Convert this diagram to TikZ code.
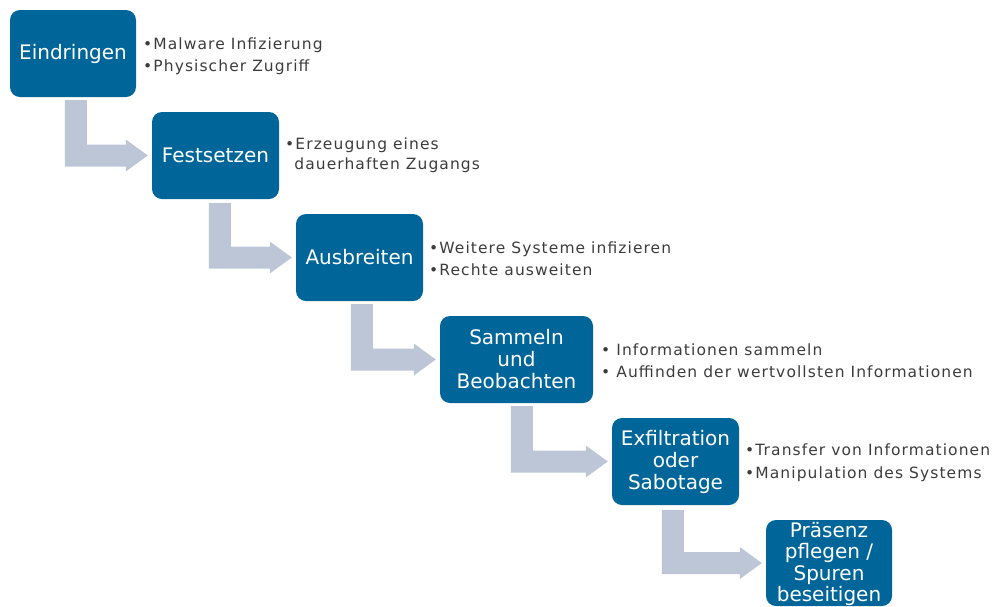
\documentclass[tikz,border=0pt]{standalone}
\usepackage{fontspec}
\setmainfont{DejaVu Sans}
\newfontfamily\notefont[LetterSpace=7]{DejaVu Sans}
\usetikzlibrary{calc}
\definecolor{boxblue}{RGB}{0,101,153}
\definecolor{arrowgray}{RGB}{189,198,214}
\definecolor{txtgray}{RGB}{60,60,60}
\tikzset{
  stage/.style={rectangle, rounded corners=10pt, fill=boxblue, text=white,
    inner sep=0pt, align=center, minimum height=87pt,
    font=\fontsize{20}{22}\selectfont},
  stagetext/.style={text=white, inner sep=0pt, align=center,
    font=\fontsize{20}{21.6}\selectfont},
  note/.style={anchor=west, inner sep=0pt, align=left, text=txtgray,
    font=\notefont\fontsize{15.5}{22.5}\selectfont},
  arrowfill/.style={fill=arrowgray}
}
% #1 from node, #2 to node, #3 x offset of bar from left of #1, #4 gap below #1, #5 gap before #2
\newcommand\bentarrow[5]{%
  \fill[arrowfill] let \p1=(#1.south west), \p2=(#2.west) in
    (\x1+#3pt,\y1-#4pt) -- (\x1+#3pt+22pt,\y1-#4pt) -- (\x1+#3pt+22pt,\y2+11pt)
    -- (\x2-#5pt-22pt,\y2+11pt) -- (\x2-#5pt-22pt,\y2+16pt) -- (\x2-#5pt,\y2)
    -- (\x2-#5pt-22pt,\y2-16pt) -- (\x2-#5pt-22pt,\y2-11pt)
    -- (\x1+#3pt,\y2-11pt) -- cycle;}
\begin{document}
\begin{tikzpicture}[x=1pt,y=-1pt]
\useasboundingbox (0,0) rectangle (997,606);
\node[stage, minimum width=126pt] (b1) at (73,53.5) {Eindringen};
\node[stage, minimum width=127pt] (b2) at (215.5,155.5) {Festsetzen};
\node[stage, minimum width=127pt] (b3) at (359.5,257.5) {Ausbreiten};
\node[stage, minimum width=153pt] (b4) at (516.5,359.5) {Sammeln\\und\\Beobachten};
\node[stage, minimum width=127pt] (b5) at (675.5,461.5) {Exfiltration\\oder\\Sabotage};
\node[stage, minimum width=126pt, minimum height=86pt] (b6) at (829,563) {};
\node[stagetext] (b6t) at ($(b6.center)+(0,1)$) {Präsenz\\pflegen /\\Spuren\\beseitigen};

\bentarrow{b1}{b2}{55}{3}{4}
\bentarrow{b2}{b3}{57}{4}{4}
\bentarrow{b3}{b4}{55}{3}{4}
\bentarrow{b4}{b5}{71}{3}{4}
\bentarrow{b5}{b6}{50}{5}{4}

\node[note] (t1) at (143,56) {•Malware Infizierung\\•Physischer Zugriff};
\node[note, font=\notefont\fontsize{15.5}{20}\selectfont] (t2) at (285,155.5) {•Erzeugung eines\\\hphantom{•}dauerhaften Zugangs};
\node[note] (t3) at (429,258.5) {•Weitere Systeme infizieren\\•Rechte ausweiten};
\node[note] (t4) at (601,360.5) {• Informationen sammeln\\• Auffinden der wertvollsten Informationen};
\node[note] (t5) at (745,462.5) {•Transfer von Informationen\\•Manipulation des Systems};
\end{tikzpicture}
\end{document}
